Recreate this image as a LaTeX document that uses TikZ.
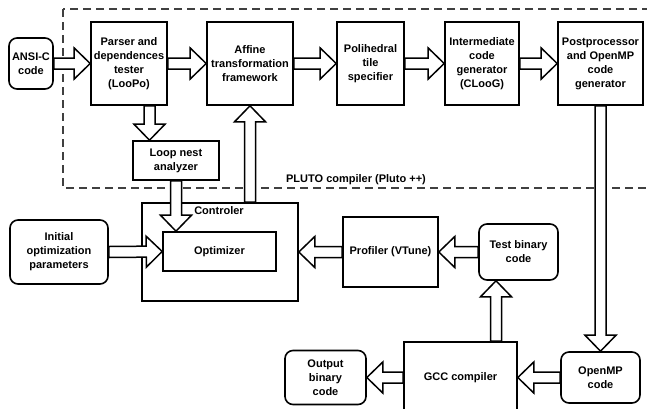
\documentclass[tikz,border=0pt]{standalone}
\usepackage{fontspec}
\setmainfont{Liberation Sans}
\usetikzlibrary{calc}

\begin{document}
\begin{tikzpicture}[x=1pt, y=-1pt,
    box/.style={draw, line width=1.6pt, fill=white, align=center,
      font=\bfseries\fontsize{11}{14}\selectfont, inner sep=1pt},
    rbox/.style={box, rounded corners=8pt},
    lbl/.style={font=\bfseries\fontsize{11}{14}\selectfont, inner sep=0pt},
    fat/.style={draw, line width=1.5pt, fill=white, to path={
      ($(\tikztostart)!5.5pt!90:(\tikztotarget)$)
      -- ($(\tikztotarget)!16pt!(\tikztostart)!5.5pt!90:(\tikztotarget)$)
      -- ($(\tikztotarget)!16pt!(\tikztostart)!15.5pt!90:(\tikztotarget)$)
      -- (\tikztotarget)
      -- ($(\tikztotarget)!16pt!(\tikztostart)!15.5pt!-90:(\tikztotarget)$)
      -- ($(\tikztotarget)!16pt!(\tikztostart)!5.5pt!-90:(\tikztotarget)$)
      -- ($(\tikztostart)!5.5pt!-90:(\tikztotarget)$) -- cycle}}]
  \useasboundingbox (0,0) rectangle (647,408);

  % PLUTO frame
  \draw[line width=1.1pt, black!75, dash pattern=on 8pt off 5pt] (63,9) rectangle (652,188);
  \node[lbl] (pluto) at (356,180) {PLUTO compiler (Pluto ++)};

  % upper chain
  \node[rbox, minimum width=44, minimum height=51] (ansi) at (31,63.5) {ANSI-C\\code};
  \node[box, minimum width=76, minimum height=83] (parser) at (129,63.5) {Parser and\\dependences\\tester\\(LooPo)};
  \node[box, minimum width=86, minimum height=83] (affine) at (250,63.5) {Affine\\transformation\\framework};
  \node[box, minimum width=67, minimum height=83] (poli) at (370.5,63.5) {Polihedral\\tile\\specifier};
  \node[box, minimum width=74, minimum height=83] (inter) at (482,63.5) {Intermediate\\code\\generator\\(CLooG)};
  \node[box, minimum width=85, minimum height=83] (post) at (600.5,63.5) {Postprocessor\\and OpenMP\\code\\generator};
  \node[box, minimum width=86, minimum height=39] (loop) at (176,160.5) {Loop nest\\analyzer};

  % controler
  \node[box, minimum width=156, minimum height=98] (ctrl) at (220,252) {};
  \node[lbl] (ctrllbl) at (219,211) {Controler};
  \node[box, minimum width=113, minimum height=39] (opt) at (219.5,251.5) {Optimizer};
  \node[rbox, minimum width=98, minimum height=64] (init) at (59,252) {Initial\\optimization\\parameters};
  \node[box, minimum width=95, minimum height=70] (prof) at (390.5,252) {Profiler (VTune)};
  \node[rbox, minimum width=79, minimum height=56] (test) at (518.5,252) {Test binary\\code};

  % lower chain
  \node[box, minimum width=113, minimum height=71] (gcc) at (460.5,377.5) {GCC compiler};
  \node[rbox, minimum width=81, minimum height=54] (out) at (325.5,377.5) {Output\\binary\\code};
  \node[rbox, minimum width=79, minimum height=51] (omp) at (600.5,377.5) {OpenMP\\code};

  \coordinate (pl) at ([xshift=20.5pt]parser.south);
  \coordinate (pll) at (pl |- loop.north);
  \coordinate (lo) at (loop.south |- opt.north);
  \coordinate (ca) at (ctrl.north -| affine.south);
  \coordinate (gt) at ([xshift=35.5pt]gcc.north);
  \coordinate (gtt) at (gt |- test.south);

  \draw[fat] (ansi.east) to (parser.west);
  \draw[fat] (parser.east) to (affine.west);
  \draw[fat] (affine.east) to (poli.west);
  \draw[fat] (poli.east) to (inter.west);
  \draw[fat] (inter.east) to (post.west);
  \draw[fat] (pl) to (pll);
  \draw[fat] (loop.south) to (lo);
  \draw[fat] (ca) to (affine.south);
  \draw[fat] (init.east) to (opt.west);
  \draw[fat] (prof.west) to (ctrl.east);
  \draw[fat] (test.west) to (prof.east);
  \draw[fat] (gt) to (gtt);
  \draw[fat] (post.south) to (omp.north);
  \draw[fat] (omp.west) to (gcc.east);
  \draw[fat] (gcc.west) to (out.east);
\end{tikzpicture}
\end{document}
